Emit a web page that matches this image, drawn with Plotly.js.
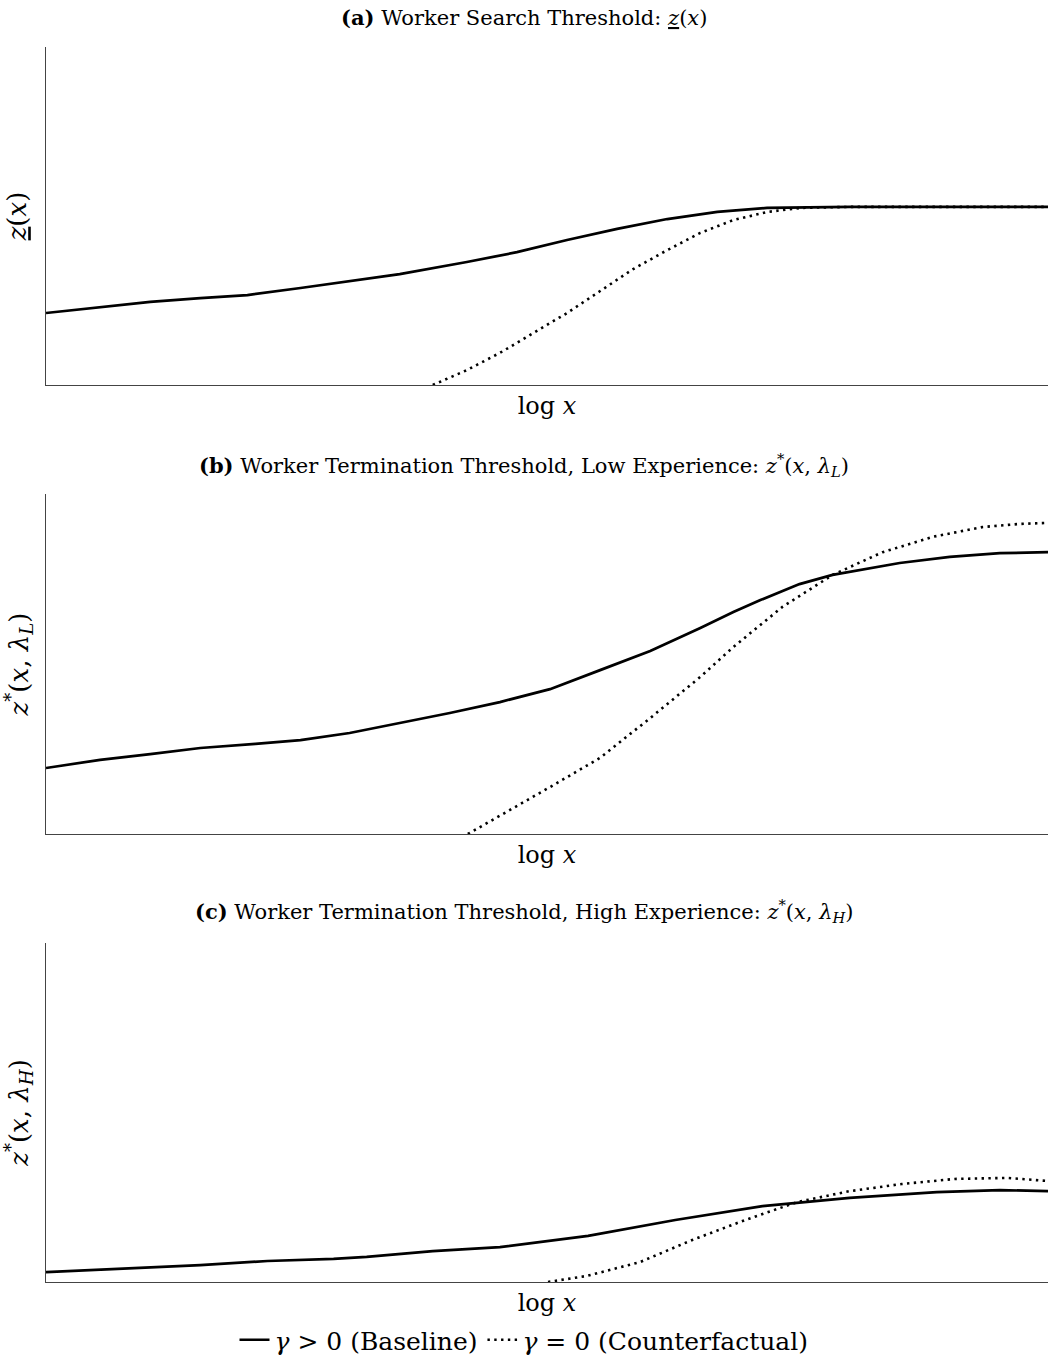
<!DOCTYPE html>
<html>
<head>
<meta charset="utf-8">
<script src="https://cdn.plot.ly/plotly-3.0.1.min.js"></script>
<style>
  html, body { margin: 0; padding: 0; background: #ffffff; }
  #chart { width: 1048px; height: 1369px; }
</style>
</head>
<body>
<div id="chart"></div>
<script>
// Normalised log productivity grid (0 = lowest, 100 = highest) and threshold levels (0-100 scale).

// (a) Worker search threshold
const xSearchBase = [0, 5.4, 10.4, 15.4, 20.1, 25.4, 30.3, 35.3, 42.0, 47.0, 52.0, 57.0, 62.0, 67.0, 71.96, 80.2, 100];
const ySearchBase = [21.3, 23.1, 24.6, 25.7, 26.6, 28.7, 30.8, 32.8, 36.4, 39.3, 42.9, 46.2, 49.1, 51.2, 52.4, 52.7, 52.7];
const xSearchCf   = [38.6, 42.0, 45.3, 48.6, 52.0, 55.3, 58.6, 62.0, 65.3, 68.6, 72.0, 75.3, 80.2, 100];
const ySearchCf   = [0, 4.4, 9.5, 15.4, 21.3, 27.8, 34.3, 39.9, 45.0, 48.8, 51.2, 52.4, 52.7, 52.7];

// (b) Termination threshold, low experience
const xLowBase = [0, 5.4, 10.4, 15.4, 20.9, 25.4, 30.3, 35.3, 40.3, 45.3, 50.3, 55.3, 60.3, 65.3, 68.6, 71.3, 75.2, 78.5, 82.2, 85.2, 90.2, 95.2, 100];
const yLowBase = [19.4, 21.8, 23.5, 25.3, 26.5, 27.6, 29.7, 32.6, 35.6, 38.8, 42.6, 48.2, 53.8, 60.6, 65.3, 68.8, 73.5, 76.2, 78.2, 79.7, 81.5, 82.6, 82.9];
const xLowCf   = [42.1, 45.3, 50.3, 55.3, 60.3, 65.3, 68.6, 73.5, 78.5, 83.5, 88.5, 93.5, 97.2, 100];
const yLowCf   = [0, 5.3, 13.8, 22.4, 34.1, 46.2, 55.0, 66.8, 76.2, 82.9, 87.4, 90.3, 91.2, 91.5];

// (c) Termination threshold, high experience
const xHighBase = [0, 8.7, 15.4, 22.1, 28.7, 32.0, 38.6, 45.3, 54.1, 62.8, 71.5, 80.2, 88.9, 95.2, 100];
const yHighBase = [2.9, 4.1, 5.0, 6.2, 6.8, 7.4, 9.1, 10.3, 13.6, 18.3, 22.4, 24.8, 26.5, 27.1, 26.8];
const xHighCf   = [50.1, 54.0, 59.3, 64.5, 69.8, 75.0, 80.2, 85.4, 90.7, 95.9, 100];
const yHighCf   = [0, 1.8, 5.9, 12.4, 18.3, 23.6, 26.8, 28.9, 30.4, 30.7, 29.8];

const baseName = '<i>γ</i> > 0 (Baseline)';
const cfName   = '<i>γ</i> = 0 (Counterfactual)';

const FONT = '"DejaVu Serif", "Liberation Serif", serif';
const solidLine  = { color: '#000000', width: 2.7 };
const dottedLine = { color: '#000000', width: 2.6, dash: '2.4px,4.4px' };

function pair(xb, yb, xc, yc, ax, showLegend) {
  return [
    { x: xb, y: yb, xaxis: 'x' + ax, yaxis: 'y' + ax, type: 'scatter', mode: 'lines',
      line: Object.assign({ shape: 'linear' }, solidLine), name: baseName,
      legendgroup: 'base', showlegend: showLegend, hoverinfo: 'skip' },
    { x: xc, y: yc, xaxis: 'x' + ax, yaxis: 'y' + ax, type: 'scatter', mode: 'lines',
      line: Object.assign({ shape: 'linear' }, dottedLine), name: cfName,
      legendgroup: 'cf', showlegend: showLegend, hoverinfo: 'skip' }
  ];
}

const data = [].concat(
  pair(xSearchBase, ySearchBase, xSearchCf, ySearchCf, '', true),
  pair(xLowBase, yLowBase, xLowCf, yLowCf, '2', false),
  pair(xHighBase, yHighBase, xHighCf, yHighCf, '3', false)
);

const H = 1369;
function dom(topPx, botPx) { return [1 - botPx / H, 1 - topPx / H]; }

function xAxis(anchor) {
  return {
    anchor: anchor, domain: [0, 1], range: [0, 100],
    showgrid: false, zeroline: false, showticklabels: false, ticks: '',
    showline: true, linecolor: '#444444', linewidth: 1.4, fixedrange: true,
    title: { text: 'log <i>x</i>', font: { family: FONT, size: 24, color: '#000' }, standoff: 11 }
  };
}
function yAxis(anchor, domainY, label) {
  return {
    anchor: anchor, domain: domainY, range: [0, 100],
    showgrid: false, zeroline: false, showticklabels: false, ticks: '',
    showline: true, linecolor: '#444444', linewidth: 1.4, fixedrange: true,
    title: { text: label, font: { family: FONT, size: 26, color: '#000' }, standoff: 10 }
  };
}

const dA = dom(47, 385), dB = dom(494, 834), dC = dom(943, 1282);

const panelTitles = [
  { text: '<b>(a)</b> Worker Search Threshold: <i><u>z</u></i>(<i>x</i>)', y: 18 },
  { text: '<b>(b)</b> Worker Termination Threshold, Low Experience: <i>z</i><sup>*</sup>(<i>x</i>, <i>λ<sub>L</sub></i>)', y: 465 },
  { text: '<b>(c)</b> Worker Termination Threshold, High Experience: <i>z</i><sup>*</sup>(<i>x</i>, <i>λ<sub>H</sub></i>)', y: 911 }
];

const layout = {
  width: 1048, height: H,
  margin: { l: 46, r: 0, t: 0, b: 0, autoexpand: false },
  paper_bgcolor: '#ffffff', plot_bgcolor: '#ffffff',
  font: { family: FONT, color: '#000000' },
  xaxis:  xAxis('y'),
  yaxis:  yAxis('x', dA, '<i><u>z</u></i>(<i>x</i>)'),
  xaxis2: xAxis('y2'),
  yaxis2: yAxis('x2', dB, '<i>z</i><sup>*</sup>(<i>x</i>, <i>λ<sub>L</sub></i>)'),
  xaxis3: xAxis('y3'),
  yaxis3: yAxis('x3', dC, '<i>z</i><sup>*</sup>(<i>x</i>, <i>λ<sub>H</sub></i>)'),
  showlegend: true,
  legend: {
    orientation: 'h', x: 0.5 - 23 / 1002, xanchor: 'center', xref: 'paper',
    y: 1 - 1340 / H, yanchor: 'middle', yref: 'paper',
    font: { family: FONT, size: 25, color: '#000' },
    itemwidth: 30, tracegroupgap: 0, bgcolor: 'rgba(0,0,0,0)'
  },
  annotations: panelTitles.map(t => ({
    text: t.text, xref: 'paper', yref: 'paper', x: 0.5 - 23 / 1002, y: 1 - t.y / H,
    xanchor: 'center', yanchor: 'middle', showarrow: false,
    font: { family: FONT, size: 21, color: '#000' }
  }))
};

Plotly.newPlot('chart', data, layout, { staticPlot: true, displayModeBar: false });
</script>
</body>
</html>
